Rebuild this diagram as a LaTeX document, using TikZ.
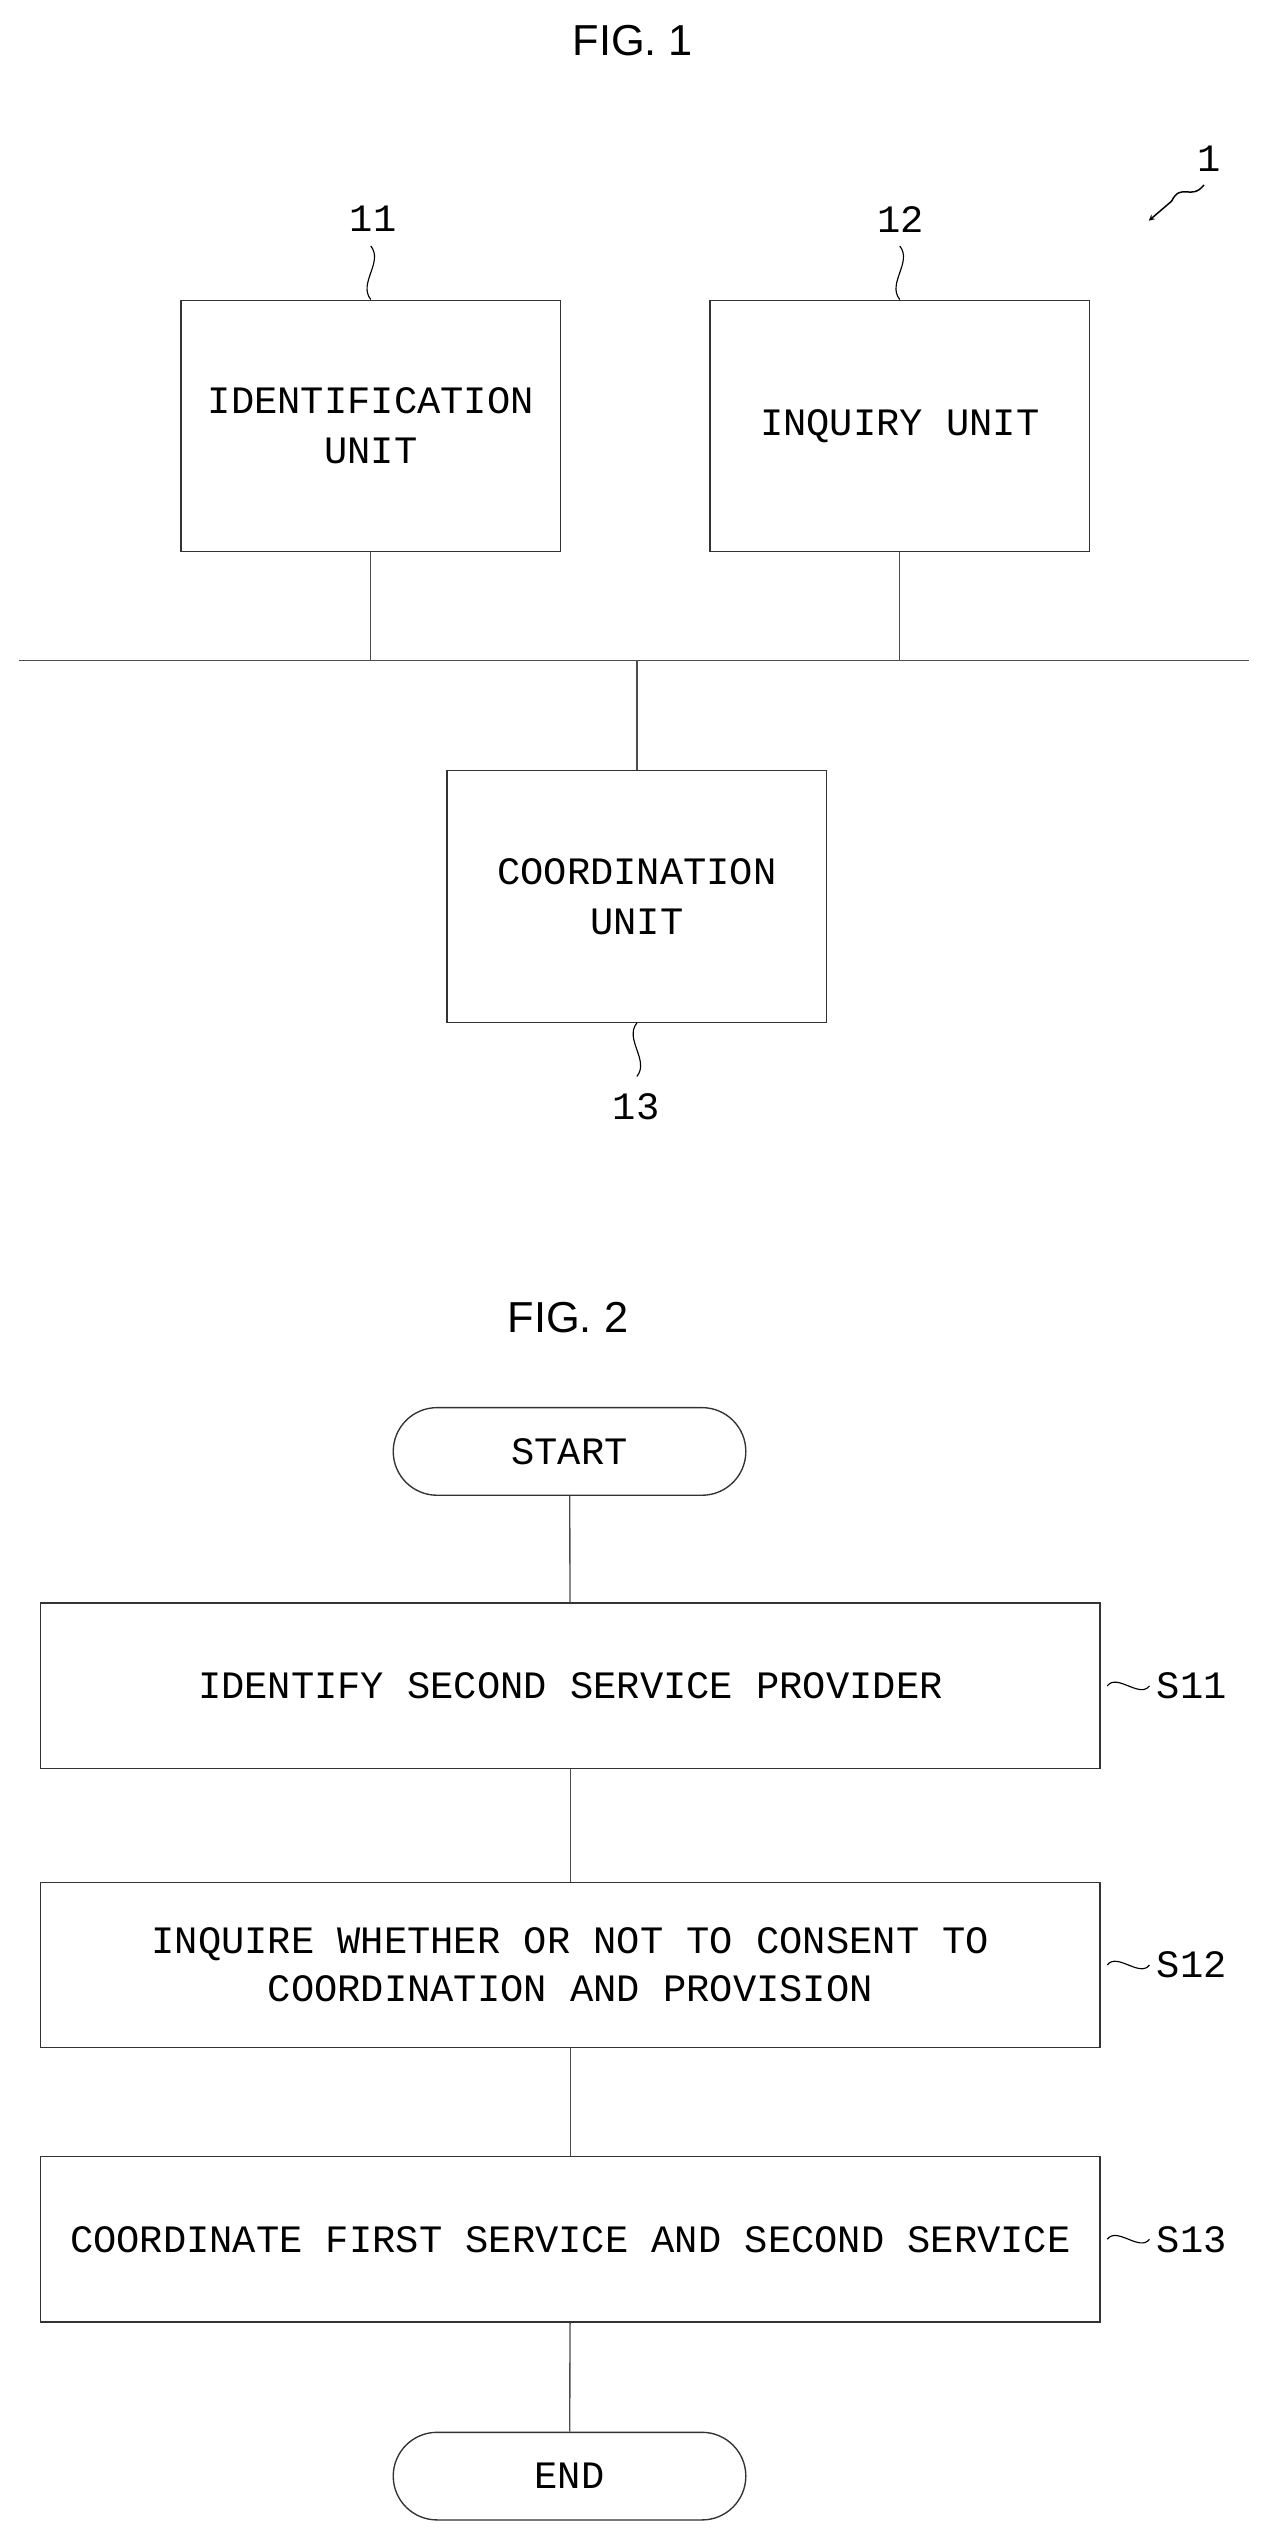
\documentclass[tikz,border=0pt]{standalone}
\usepackage{fontspec}
\setmainfont{Liberation Sans}
\newfontfamily\boxfont{Liberation Mono}
\usetikzlibrary{shapes,arrows,positioning,calc}

\begin{document}
\begin{tikzpicture}[x=0.05cm,y=-0.05cm,
    unit_box/.style={rectangle, draw=black!80, line width=1.2pt, minimum width=11.7cm, minimum height=7.75cm, align=center, font=\boxfont\fontsize{34}{44}\selectfont},
    step_box/.style={rectangle, draw=black!80, line width=1.2pt, minimum width=32.65cm, minimum height=5.1cm, align=center, font=\boxfont\fontsize{34}{42}\selectfont},
    term_box/.style={rounded rectangle, draw=black!80, line width=1.2pt, minimum width=11.1cm, minimum height=2.7cm, font=\boxfont\fontsize{34}{40}\selectfont},
    title_text/.style={font=\fontsize{38}{44}\selectfont},
    ref_text/.style={font=\boxfont\fontsize{34}{40}\selectfont},
    link_line/.style={line width=1.2pt, draw=black!70},
    squiggle/.style={line width=1pt}
]
\useasboundingbox (0,0) rectangle (790,1566);

% FIG. 1
\node[title_text] (fig1) at (390,25) {FIG. 1};
\node[ref_text] (ref1) at (745,98) {1};
\coordinate (ref1_tip) at (708,136);
\draw[squiggle, ->, >=stealth, line width=1.3pt] (742,114) .. controls (734,124) and (728,112) .. (722,124) -- (ref1_tip);

\node[unit_box] (ident) at (228.5,262.5) {IDENTIFICATION\\UNIT};
\node[unit_box] (inquiry) at (554.5,262.5) {INQUIRY UNIT};
\node[unit_box] (coord) at (392.5,552.5) {COORDINATION\\UNIT};

\node[ref_text] (ref11) at (230,135) {11};
\node[ref_text] (ref12) at (555,135) {12};
\node[ref_text] (ref13) at (392,682) {13};
\draw[squiggle] (ident.north) .. controls +(-8,-10) and +(8,10) .. ++(0,-33);
\draw[squiggle] (inquiry.north) .. controls +(-8,-10) and +(8,10) .. ++(0,-33);
\draw[squiggle] (coord.south) .. controls +(-8,10) and +(8,-10) .. ++(0,33);

% bus
\coordinate (bus_l) at (12,407);
\coordinate (bus_r) at (770,407);
\draw[link_line] (bus_l) -- (bus_r);
\draw[link_line] (ident.south) -- (ident.south |- bus_l);
\draw[link_line] (inquiry.south) -- (inquiry.south |- bus_l);
\draw[link_line] (coord.north) -- (coord.north |- bus_l);

% FIG. 2
\node[title_text] (fig2) at (350,812) {FIG. 2};
\node[term_box] (start) at (351,894.5) {START};
\node[step_box] (s11) at (351.5,1039) {IDENTIFY SECOND SERVICE PROVIDER};
\node[step_box] (s12) at (351.5,1211) {INQUIRE WHETHER OR NOT TO CONSENT TO\\COORDINATION AND PROVISION};
\node[step_box] (s13) at (351.5,1380) {COORDINATE FIRST SERVICE AND SECOND SERVICE};
\node[term_box] (end) at (351,1526) {END};

\draw[link_line] (start) -- (s11);
\draw[link_line] (s11) -- (s12);
\draw[link_line] (s12) -- (s13);
\draw[link_line] (s13) -- (end);

% step labels
\foreach \s/\t in {s11/S11, s12/S12, s13/S13} {
  \node[ref_text, right=1.6cm of \s.east, anchor=west] (lbl_\s) {\t};
  \draw[squiggle] ($(\s.east)+(4,0)$) .. controls +(6,-8) and +(-6,8) .. ($(lbl_\s.west)+(-2,0)$);
}
\end{tikzpicture}
\end{document}
